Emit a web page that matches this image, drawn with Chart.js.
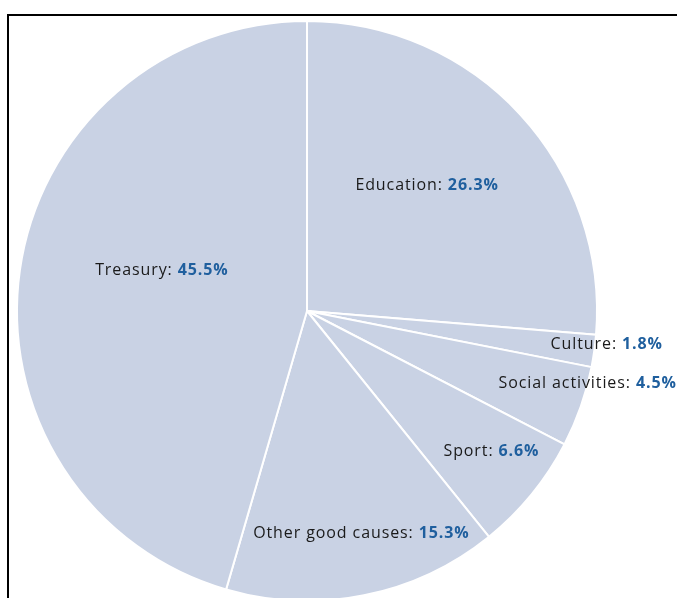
<!DOCTYPE html>
<html>
<head>
<meta charset="utf-8">
<script src="https://cdn.jsdelivr.net/npm/chart.js@4/dist/chart.umd.min.js"></script>
<style>
  html, body { margin: 0; padding: 0; background: #ffffff; overflow: hidden; width: 677px; height: 598px; }
  #frame { position: absolute; left: 7px; top: 14px; width: 700px; height: 620px; border: 2px solid #000; box-sizing: border-box; }
  #wrap { position: absolute; left: 0; top: 0; width: 677px; height: 610px; }
</style>
</head>
<body>
<div id="frame"></div>
<div id="wrap"><canvas id="c" width="677" height="610"></canvas></div>
<script>
const categories = ["Education", "Culture", "Social activities", "Sport", "Other good causes", "Treasury"];
const shares = [26.3, 1.8, 4.5, 6.6, 15.3, 45.5];

// label placement (style): angle offset in degrees from slice middle, radius as fraction of outer radius
const labelAngleOffset = [-3.7, -1.6, -4.7, -1.9, -2.4, 7.7];
const labelRadiusFrac = [0.60, 1.04, 1.0, 0.80, 0.79, 0.52];

const FONT = '"Open Sans", "DejaVu Sans", sans-serif';
const FONT_SIZE = 16;
const SPACING = '0.9px';

const labelPlugin = {
  id: 'sliceLabels',
  afterDatasetsDraw(chart) {
    const ctx = chart.ctx;
    const meta = chart.getDatasetMeta(0);
    meta.data.forEach((arc, i) => {
      const p = arc.getProps(['x', 'y', 'startAngle', 'endAngle', 'outerRadius'], true);
      const mid = (p.startAngle + p.endAngle) / 2 + labelAngleOffset[i] * Math.PI / 180;
      const r = p.outerRadius * labelRadiusFrac[i];
      const x = p.x + r * Math.cos(mid);
      const y = p.y + r * Math.sin(mid);
      const name = categories[i] + ': ';
      const val = shares[i].toFixed(1) + '%';
      ctx.save();
      ctx.letterSpacing = SPACING;
      ctx.textBaseline = 'middle';
      ctx.textAlign = 'left';
      ctx.font = `${FONT_SIZE}px ${FONT}`;
      const w1 = ctx.measureText(name).width;
      ctx.font = `bold ${FONT_SIZE}px ${FONT}`;
      const w2 = ctx.measureText(val).width;
      const x0 = x - (w1 + w2) / 2;
      ctx.font = `${FONT_SIZE}px ${FONT}`;
      ctx.fillStyle = '#1a1a1a';
      ctx.fillText(name, x0, y);
      ctx.font = `bold ${FONT_SIZE}px ${FONT}`;
      ctx.fillStyle = '#1f5f9e';
      ctx.fillText(val, x0 + w1, y);
      ctx.restore();
    });
  }
};

new Chart(document.getElementById('c'), {
  type: 'pie',
  data: {
    labels: categories,
    datasets: [{
      data: shares,
      backgroundColor: '#c9d2e4',
      hoverBackgroundColor: '#c9d2e4',
      borderColor: '#ffffff',
      hoverBorderColor: '#ffffff',
      borderWidth: 2,
      hoverOffset: 0
    }]
  },
  options: {
    responsive: false,
    animation: false,
    events: [],
    layout: { padding: { left: 16, top: 20, right: 79, bottom: 8 } },
    plugins: { legend: { display: false }, tooltip: { enabled: false } }
  },
  plugins: [labelPlugin]
});
</script>
</body>
</html>
